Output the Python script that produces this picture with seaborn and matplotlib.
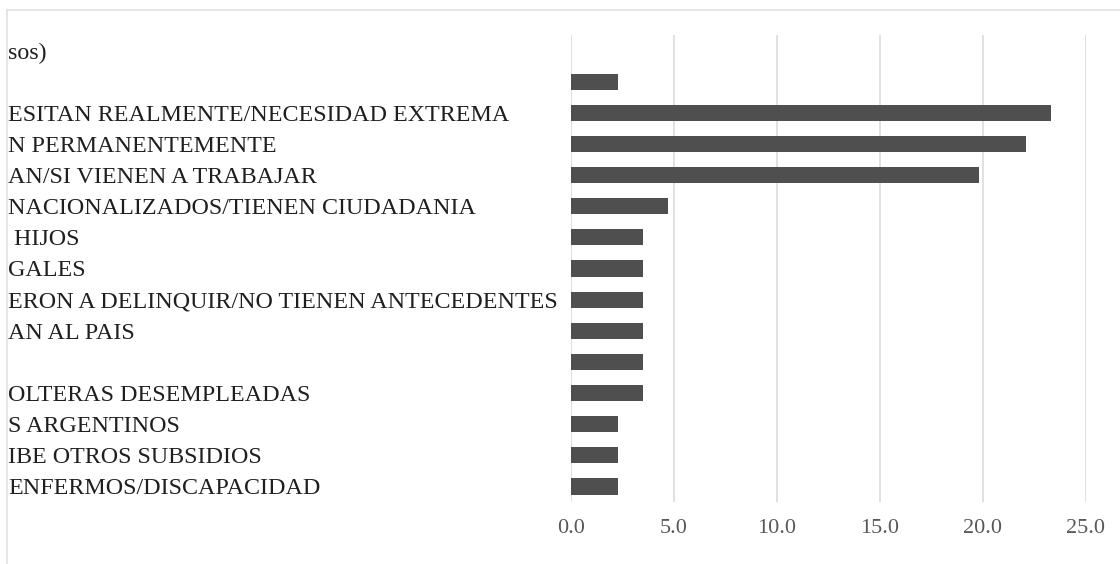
import matplotlib
matplotlib.use("Agg")
import matplotlib.pyplot as plt
from matplotlib.lines import Line2D
import seaborn as sns

# category labels as visible in the (cropped) chart; blank ones use distinct whitespace
labels = [
    "sos)",
    " ",
    "ESITAN REALMENTE/NECESIDAD EXTREMA",
    "N PERMANENTEMENTE",
    "AN/SI VIENEN A TRABAJAR",
    "NACIONALIZADOS/TIENEN CIUDADANIA",
    " HIJOS",
    "GALES",
    "ERON A DELINQUIR/NO TIENEN ANTECEDENTES",
    "AN AL PAIS",
    "  ",
    "OLTERAS DESEMPLEADAS",
    "S ARGENTINOS",
    "IBE OTROS SUBSIDIOS",
    "ENFERMOS/DISCAPACIDAD",
]
values = [0.0, 2.3, 23.3, 22.1, 19.8, 4.7, 3.5, 3.5, 3.5, 3.5, 3.5, 3.5, 2.3, 2.3, 2.3]
xticks = [0, 5, 10, 15, 20, 25]

sns.set_theme(style="whitegrid")
plt.rcParams["font.family"] = ["Liberation Serif", "DejaVu Serif"]

fig = plt.figure(figsize=(11.2, 5.64), dpi=100)
ax = fig.add_axes([571 / 1120, 62 / 564, (1086 - 571) / 1120, (529 - 62) / 564])

sns.barplot(x=values, y=labels, orient="h", color="#4f4f4f", width=0.52,
            saturation=1, linewidth=0, ax=ax)

ax.set_xlim(0, 25)
ax.set_xticks(xticks)
ax.set_xticklabels([f"{t:.1f}" for t in xticks])
ax.grid(axis="x", color="#dedede", linewidth=1.3)
ax.grid(axis="y", visible=False)
for s in ax.spines.values():
    s.set_visible(False)
ax.set_xlabel("")
ax.set_ylabel("")

ax.tick_params(axis="x", length=0, pad=12, labelsize=16, labelcolor="#595959")
# labels are left aligned and start at the chart's left border
ax.tick_params(axis="y", length=0, pad=(571 - 8) * 0.72, labelsize=17.3, labelcolor="#1f1f1f")
for lab in ax.get_yticklabels():
    lab.set_horizontalalignment("left")
    lab.set_verticalalignment("center_baseline")

# chart area border (top and left edges visible in the crop)
fig.add_artist(Line2D([7 / 1120, 1], [1 - 10 / 564, 1 - 10 / 564],
                      transform=fig.transFigure, color="#e0e0e0", linewidth=1.2))
fig.add_artist(Line2D([7 / 1120, 7 / 1120], [0, 1 - 10 / 564],
                      transform=fig.transFigure, color="#e0e0e0", linewidth=1.2))

fig.savefig("out.png", dpi=100)
